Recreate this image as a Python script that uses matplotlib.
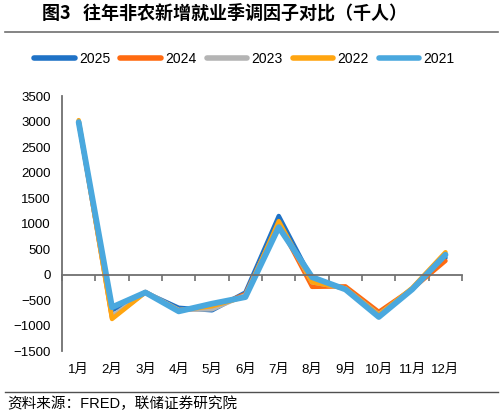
import numpy as np
import matplotlib.pyplot as plt
import matplotlib.transforms as mtransforms
from matplotlib.lines import Line2D

plt.rcParams['font.family'] = ['Liberation Sans', 'Noto Sans CJK SC', 'DejaVu Sans']

# --- 数据 ---
months = ['1月', '2月', '3月', '4月', '5月', '6月', '7月', '8月', '9月', '10月', '11月', '12月']
years = ['2025', '2024', '2023', '2022', '2021']
v2025 = [2990, -700, -350, -650, -700, -350, 1150, -100, -280, -800, -280, 330]
v2024 = [3000, -850, -340, -700, -650, -380, 1000, -240, -230, -730, -280, 270]
v2023 = [3000, -820, -340, -690, -680, -400, 1000, -150, -270, -780, -280, 400]
v2022 = [3030, -870, -350, -700, -620, -430, 1050, -150, -270, -790, -260, 440]
v2021 = [2990, -640, -350, -720, -570, -440, 930, -50, -290, -830, -290, 390]
series = [v2025, v2024, v2023, v2022, v2021]
colors = ['#1f72c6', '#ff6a10', '#b4b4b4', '#ffa510', '#4aa8de']
widths = [3.2, 3.2, 3.2, 3.2, 4.2]

fig = plt.figure(figsize=(5.04, 4.18), dpi=100)
ax = fig.add_axes([0.123, 0.160, 0.794, 0.610])

x = np.arange(len(months))
for vals, c, lw in zip(series, colors, widths):
    ax.plot(x, vals, color=c, lw=lw, solid_capstyle='round', solid_joinstyle='round')

ax.set_xlim(-0.5, len(months) - 0.5)
ax.set_ylim(-1500, 3500)
ax.set_yticks(np.arange(-1500, 3501, 500))
ax.tick_params(axis='y', length=0, labelsize=9.5, pad=8)

# x 轴在 0 处，刻度在分隔处
ax.spines['bottom'].set_position(('data', 0))
ax.spines['bottom'].set_color('#707070')
ax.spines['bottom'].set_linewidth(1.3)
ax.spines['left'].set_color('#707070')
ax.spines['left'].set_linewidth(1.3)
ax.spines['top'].set_visible(False)
ax.spines['right'].set_visible(False)
ax.set_xticks(np.arange(-0.5, len(months), 1.0))
ax.set_xticklabels([])
ax.tick_params(axis='x', direction='out', length=4, color='#707070', width=1.2)

trans = mtransforms.blended_transform_factory(ax.transData, ax.transAxes)
for i, m in enumerate(months):
    ax.text(i, -0.075, m, transform=trans, ha='center', va='center', fontsize=9.5)

handles = [Line2D([], [], color=c, lw=4, solid_capstyle='round') for c in colors]
fig.legend(handles, years, loc='center', bbox_to_anchor=(0.485, 0.858), ncol=5,
           frameon=False, fontsize=10, handlelength=2.9, handletextpad=0.3,
           columnspacing=0.75)

fig.text(0.083, 0.968, '图3   往年非农新增就业季调因子对比（千人）', fontsize=13,
         fontweight='bold', va='center', family=['Noto Sans CJK SC', 'DejaVu Sans'])
fig.add_artist(Line2D([0.01, 0.988], [0.923, 0.923], color='#707070', lw=1.2))
fig.add_artist(Line2D([0.01, 0.988], [0.062, 0.062], color='#505050', lw=1.0))
fig.text(0.014, 0.033, '资料来源：FRED，联储证券研究院', fontsize=10.5, va='center')

fig.savefig('out.png', dpi=100)
